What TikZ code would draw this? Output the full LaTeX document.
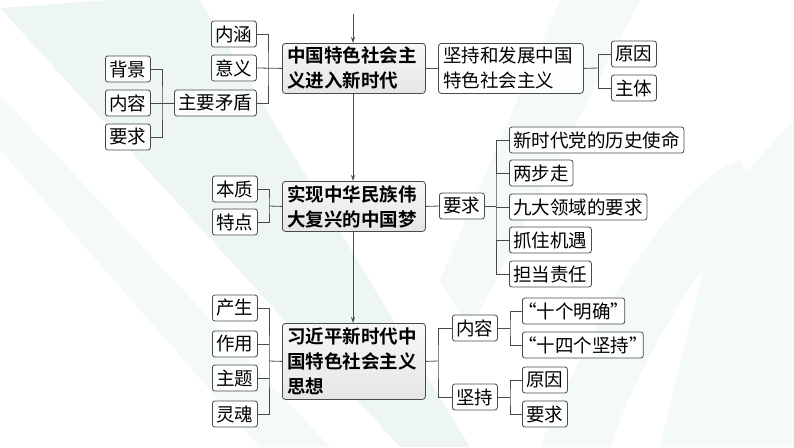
\documentclass[tikz,border=0pt]{standalone}
\usepackage{fontspec}
\setmainfont{Noto Sans CJK SC}[BoldFont={Noto Sans CJK SC Bold}]
\usetikzlibrary{arrows.meta,calc}
\definecolor{lnc}{HTML}{4A4A4A}
\definecolor{bgA}{HTML}{EDF5F5}
\definecolor{bgB}{HTML}{F4F9F9}
\tikzset{
  sbox/.style={draw=lnc, line width=0.8pt, rounded corners=2.5pt, fill=white, fill opacity=0.85, text opacity=1,
    inner xsep=4pt, inner ysep=0pt, minimum height=26pt, anchor=west,
    font=\fontsize{18.5}{22}\selectfont},
  mbox/.style={draw=lnc, line width=0.8pt, rounded corners=3pt, top color=gray!6, bottom color=gray!20,
    inner xsep=5pt, inner ysep=0pt, anchor=north west, align=left,
    font=\fontsize{18.5}{25}\selectfont\bfseries},
  wbox/.style={draw=lnc, line width=0.8pt, rounded corners=3pt, fill=white, fill opacity=0.85, text opacity=1,
    inner xsep=5pt, inner ysep=0pt, anchor=north west, align=left,
    font=\fontsize{18.5}{25}\selectfont},
  ln/.style={draw=lnc, line width=0.8pt},
  arr/.style={ln, -{Stealth[length=6pt,width=4pt]}}
}
\newcommand{\myLQ}{\kern-.45em“}
\newcommand{\myRQ}{”\kern-.45em}
\begin{document}
\begin{tikzpicture}[x=1pt,y=-1pt]
\useasboundingbox (0,0) rectangle (794,447);
% background decoration
\fill[bgA] (0,8) -- (110,0) -- (200,0) -- (470,447) -- (400,447) -- cycle;
\fill[bgB] (0,95) -- (0,150) -- (260,447) -- (330,447) -- cycle;
\fill[bgB] (560,0) -- (640,0) -- (470,330) -- (440,280) -- cycle;
\fill[bgB] (660,447) -- (720,200) -- (794,120) -- (794,447) -- cycle;
\fill[bgB] (540,447) .. controls (600,300) and (680,180) .. (740,160) -- (760,200) .. controls (700,260) and (640,360) .. (610,447) -- cycle;

% ---------- section 1 ----------
\node[mbox, text width=133pt, minimum height=50pt] (b1) at (282,43) {中国特色社会主\\义进入新时代};
\coordinate (top) at (353,14);
\node[sbox] (neihan) at (211,34) {内涵};
\node[sbox] (yiyi) at (211,68) {意义};
\node[sbox] (zymd) at (174,103) {主要矛盾};
\node[sbox] (bj) at (105,69) {背景};
\node[sbox] (nr1) at (105,103) {内容};
\node[sbox] (yq1) at (105,137) {要求};
\node[wbox, text width=135pt, minimum height=50pt] (jc) at (438,43) {坚持和发展中国\\特色社会主义};
\node[sbox] (yy1) at (611,54) {原因};
\node[sbox] (zt) at (611,88) {主体};
\coordinate (j1) at (268,68);
\coordinate (j2) at (162,103);
\coordinate (j3) at (598,68);

\draw[arr] (top) -- (b1.north -| top);
\draw[ln] (neihan.east) -| (j1) |- (zymd.east);
\draw[ln] (yiyi.east) -- (b1.west);
\draw[ln] (bj.east) -| (j2) |- (yq1.east);
\draw[ln] (nr1.east) -- (zymd.west);
\draw[ln] (b1.east) -- (jc.west);
\draw[ln] (jc.east) -- (j3);
\draw[ln] (yy1.west) -| (j3) |- (zt.west);

% ---------- section 2 ----------
\node[mbox, text width=133pt, minimum height=50pt] (b2) at (282,181) {实现中华民族伟\\大复兴的中国梦};
\node[sbox] (bz) at (212,189) {本质};
\node[sbox] (td) at (212,222) {特点};
\node[sbox] (yq2) at (439,206) {要求};
\node[sbox] (i1) at (509,140) {新时代党的历史使命};
\node[sbox] (i2) at (509,173) {两步走};
\node[sbox] (i3) at (509,207) {九大领域的要求};
\node[sbox] (i4) at (509,240) {抓住机遇};
\node[sbox] (i5) at (509,274) {担当责任};
\coordinate (j4) at (269,206);
\coordinate (j5) at (496,206);

\draw[arr] (b1.south -| top) -- (b2.north -| top);
\draw[ln] (bz.east) -| (j4) |- (td.east);
\draw[ln] (j4) -- (b2.west);
\draw[ln] (b2.east) -- (yq2.west);
\draw[ln] (yq2.east) -- (j5);
\draw[ln] (i1.west) -| (j5) |- (i5.west);
\draw[ln] (i2.west) -- (i2.west -| j5);
\draw[ln] (i3.west) -- (i3.west -| j5);
\draw[ln] (i4.west) -- (i4.west -| j5);

% ---------- section 3 ----------
\node[mbox, text width=133pt, minimum height=76pt] (b3) at (282,323) {习近平新时代中\\国特色社会主义\\思想};
\node[sbox] (cs) at (212,308) {产生};
\node[sbox] (zy) at (212,344) {作用};
\node[sbox] (ztt) at (212,378) {主题};
\node[sbox] (lh) at (212,414) {灵魂};
\node[sbox] (nr3) at (452,328) {内容};
\node[sbox] (jc3) at (452,397) {坚持};
\node[sbox] (sg) at (522,311) {\myLQ 十个明确\myRQ};
\node[sbox] (ssg) at (522,345) {\myLQ 十四个坚持\myRQ};
\node[sbox] (yy3) at (522,380) {原因};
\node[sbox] (yq3) at (522,414) {要求};
\coordinate (j6) at (269,361);
\coordinate (j7) at (438,361);
\coordinate (j8) at (510,328);
\coordinate (j9) at (510,397);

\draw[arr] (b2.south -| top) -- (b3.north -| top);
\draw[ln] (cs.east) -| (j6) |- (lh.east);
\draw[ln] (zy.east) -- (zy.east -| j6);
\draw[ln] (ztt.east) -- (ztt.east -| j6);
\draw[ln] (j6) -- (b3.west);
\draw[ln] (b3.east) -- (j7);
\draw[ln] (nr3.west) -| (j7) |- (jc3.west);
\draw[ln] (nr3.east) -- (j8);
\draw[ln] (sg.west) -| (j8) |- (ssg.west);
\draw[ln] (jc3.east) -- (j9);
\draw[ln] (yy3.west) -| (j9) |- (yq3.west);
\end{tikzpicture}
\end{document}
